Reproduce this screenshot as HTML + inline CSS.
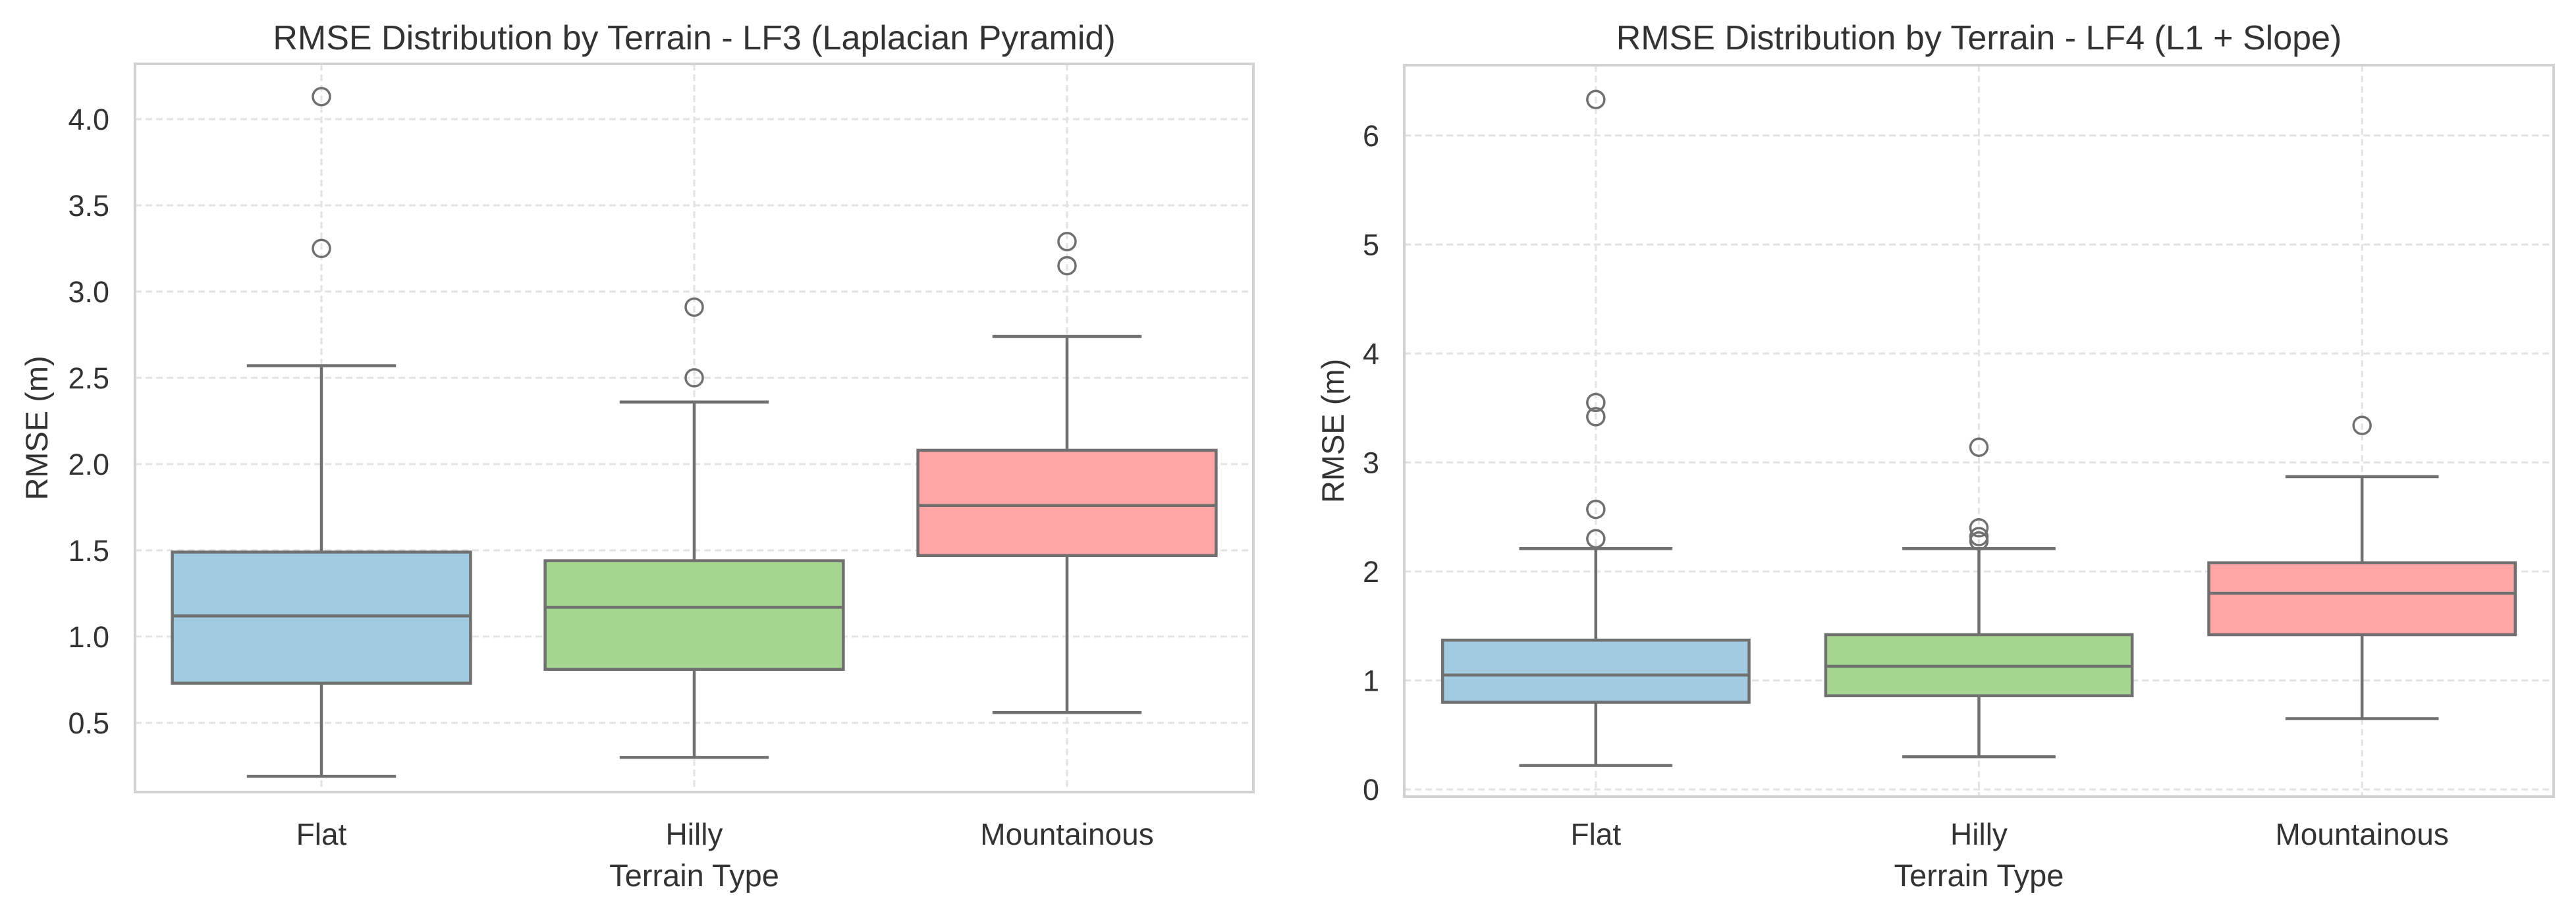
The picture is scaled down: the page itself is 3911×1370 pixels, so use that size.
<!DOCTYPE html>
<html><head><meta charset="utf-8"><style>
html,body{margin:0;padding:0;background:#fff}
svg{display:block;font-family:"Liberation Sans","DejaVu Sans",sans-serif}
</style></head><body>
<svg id="fig" width="3911" height="1370" viewBox="0 0 3911 1370" xmlns="http://www.w3.org/2000/svg"></svg>
<script>
const categories = ["Flat","Hilly","Mountainous"];
const colors = ["#a1cbe0","#a5d690","#ffa5a5"];
// LF3 stats: [low whisker, q1, median, q3, high whisker]
const lf3Stats = [[0.19,0.73,1.12,1.49,2.57],[0.30,0.81,1.17,1.44,2.36],[0.56,1.47,1.76,2.08,2.74]];
const lf3Outliers = [[3.25,4.13],[2.50,2.91],[3.15,3.29]];
const lf3Ticks = [0.5,1.0,1.5,2.0,2.5,3.0,3.5,4.0];
const lf4Stats = [[0.22,0.80,1.05,1.37,2.21],[0.30,0.86,1.13,1.42,2.21],[0.65,1.42,1.80,2.08,2.87]];
const lf4Outliers = [[2.30,2.57,3.42,3.55,6.33],[2.28,2.32,2.40,3.14],[3.34]];
const lf4Ticks = [0,1,2,3,4,5,6];

const NS="http://www.w3.org/2000/svg";
const svg=document.getElementById('fig');
function mk(tag,attrs,parent){const e=document.createElementNS(NS,tag);for(const k in attrs)e.setAttribute(k,attrs[k]);(parent||svg).appendChild(e);return e;}

function panel(opt){
  const g=mk('g',{});
  
  
  const {x0,x1,y0,y1,vmin,vmax}=opt;
  const ys=v=>y1-(v-vmin)/(vmax-vmin)*(y1-y0);
  const step=(x1-x0)/categories.length;
  const xs=i=>x0+step*(i+0.5);
  opt.ticks.forEach(t=>{
    const l=mk('line',{x1:x0,x2:x1,y1:ys(t),y2:ys(t),stroke:'#e3e3e3','stroke-width':3,'stroke-dasharray':'10,6'},g);
    
    
    const tx=mk('text',{x:opt.tickX,y:ys(t)+16,'text-anchor':'end','font-size':45,fill:'#333'},g);
    tx.textContent=opt.fmt(t);
    
    
  });
  categories.forEach((c,i)=>{
    const l=mk('line',{x1:xs(i),x2:xs(i),y1:y0,y2:y1,stroke:'#e3e3e3','stroke-width':3,'stroke-dasharray':'10,6'},g);
    
    
  });
  const fr=mk('rect',{x:x0,y:y0,width:x1-x0,height:y1-y0,fill:'none',stroke:'#d2d2d2','stroke-width':4},g);
  
  
  categories.forEach((c,i)=>{
    const s=opt.stats[i], cx=xs(i), w=step*0.8, cw=step*0.4;
    const bg=mk('g',{},g);
    
    
    const ln={stroke:'#707070','stroke-width':4.5};
    mk('line',Object.assign({x1:cx,x2:cx,y1:ys(s[0]),y2:ys(s[1])},ln),bg);
    mk('line',Object.assign({x1:cx,x2:cx,y1:ys(s[3]),y2:ys(s[4])},ln),bg);
    mk('line',Object.assign({x1:cx-cw/2,x2:cx+cw/2,y1:ys(s[0]),y2:ys(s[0])},ln),bg);
    mk('line',Object.assign({x1:cx-cw/2,x2:cx+cw/2,y1:ys(s[4]),y2:ys(s[4])},ln),bg);
    mk('rect',{x:cx-w/2,y:ys(s[3]),width:w,height:ys(s[1])-ys(s[3]),fill:colors[i],stroke:'#707070','stroke-width':4.5},bg);
    mk('line',Object.assign({x1:cx-w/2,x2:cx+w/2,y1:ys(s[2]),y2:ys(s[2])},ln),bg);
    opt.outliers[i].forEach(o=>{
      const p=mk('circle',{cx:cx,cy:ys(o),r:13,fill:'none',stroke:'#707070','stroke-width':3.5},bg);
      
      
    });
    const t=mk('text',{x:cx,y:1283,'text-anchor':'middle','font-size':46,fill:'#333'},g);
    t.textContent=c;
    
    
  });
  const tt=mk('text',{x:(x0+x1)/2,y:75,'text-anchor':'middle','font-size':52,fill:'#333'},g);
  tt.textContent=opt.title;
  
  
  const xl=mk('text',{x:(x0+x1)/2,y:1346,'text-anchor':'middle','font-size':47,fill:'#333'},g);
  xl.textContent='Terrain Type';
  
  
  const yc=(y0+y1)/2;
  const yl=mk('text',{x:opt.ylabX,y:yc,'text-anchor':'middle','font-size':47,fill:'#333',transform:`rotate(-90 ${opt.ylabX} ${yc})`},g);
  yl.textContent='RMSE (m)';
  
  
}
panel({name:'lf3-chart',x0:205,x1:1903,y0:97,y1:1203,vmin:0.099,vmax:4.32,ticks:lf3Ticks,fmt:t=>t.toFixed(1),
  stats:lf3Stats,outliers:lf3Outliers,tickX:166,ylabX:72,title:'RMSE Distribution by Terrain - LF3 (Laplacian Pyramid)'});
panel({name:'lf4-chart',x0:2132,x1:3877,y0:99,y1:1210,vmin:-0.066,vmax:6.645,ticks:lf4Ticks,fmt:t=>String(t),
  stats:lf4Stats,outliers:lf4Outliers,tickX:2094,ylabX:2040,title:'RMSE Distribution by Terrain - LF4 (L1 + Slope)'});
</script>
</body></html>
